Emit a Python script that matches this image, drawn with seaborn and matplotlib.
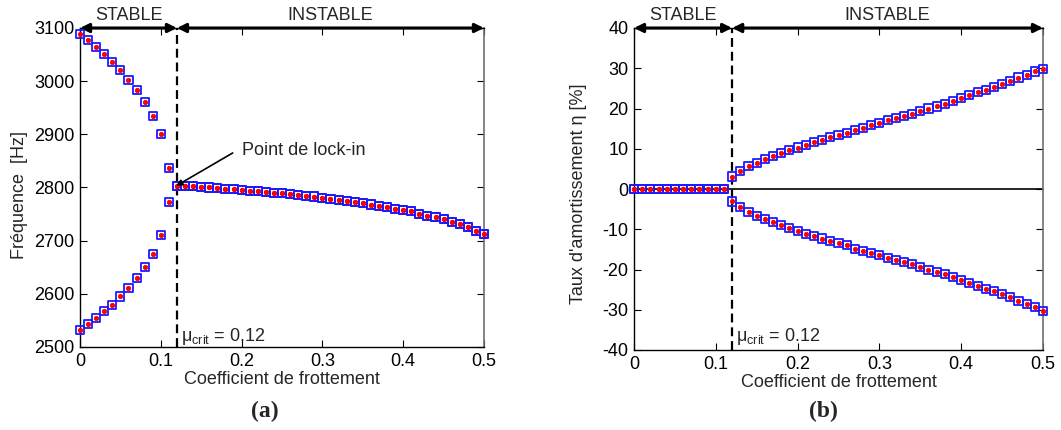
import numpy as np
import pandas as pd
import seaborn as sns
import matplotlib.pyplot as plt
import matplotlib.transforms as mtransforms

# =========================
# DATA
# =========================
mu_stable = [0.00, 0.01, 0.02, 0.03, 0.04, 0.05, 0.06, 0.07, 0.08, 0.09, 0.10, 0.11]
mu_instable = [0.12, 0.13, 0.14, 0.15, 0.16, 0.17, 0.18, 0.19, 0.20, 0.21,
               0.22, 0.23, 0.24, 0.25, 0.26, 0.27, 0.28, 0.29, 0.30, 0.31,
               0.32, 0.33, 0.34, 0.35, 0.36, 0.37, 0.38, 0.39, 0.40, 0.41,
               0.42, 0.43, 0.44, 0.45, 0.46, 0.47, 0.48, 0.49, 0.50]

# frequencies [Hz]
freq_stable_up = [3088, 3077, 3064, 3051, 3036, 3021, 3003, 2984, 2960, 2935, 2900, 2836]
freq_stable_low = [2532, 2543, 2554, 2567, 2579, 2595, 2611, 2630, 2651, 2675, 2710, 2772]
freq_instable = [2803, 2802, 2802, 2801, 2800, 2799, 2798, 2797, 2796, 2794,
                 2793, 2792, 2790, 2789, 2787, 2786, 2784, 2783, 2781, 2779,
                 2777, 2775, 2773, 2771, 2768, 2766, 2763, 2760, 2758, 2755,
                 2751, 2747, 2744, 2740, 2735, 2731, 2725, 2719, 2713]

# damping ratio [%]
eta_stable = [0, 0, 0, 0, 0, 0, 0, 0, 0, 0, 0, 0]
eta_instable_up = [3.1, 4.5, 5.7, 6.5, 7.5, 8.3, 8.9, 9.6, 10.3, 10.9,
                   11.6, 12.1, 12.9, 13.4, 13.9, 14.7, 15.2, 15.8, 16.3, 17.1,
                   17.6, 18.1, 18.6, 19.4, 20.0, 20.5, 21.2, 21.9, 22.6, 23.3,
                   24.0, 24.7, 25.4, 26.1, 26.8, 27.7, 28.4, 29.2, 29.9]
eta_instable_low = [-3.1, -4.5, -5.7, -6.6, -7.5, -8.3, -9.0, -9.7, -10.4, -11.1,
                    -11.7, -12.3, -13.0, -13.5, -14.0, -14.8, -15.3, -16.0, -16.4, -17.1,
                    -17.6, -18.2, -18.7, -19.4, -20.1, -20.7, -21.2, -21.8, -22.6, -23.4,
                    -24.0, -24.8, -25.4, -26.1, -26.9, -27.8, -28.5, -29.4, -30.2]

mu_crit = 0.12

# =========================
# STYLE
# =========================
sns.set_style("ticks")
plt.rcParams['font.family'] = ['Liberation Sans', 'DejaVu Sans']
plt.rcParams['mathtext.default'] = 'regular'
plt.rcParams['axes.unicode_minus'] = False
FS = 13

fig = plt.figure(figsize=(10.61, 4.30), dpi=100)
ax1 = fig.add_axes([80 / 1061, 1 - 347 / 430, 404 / 1061, 319 / 430])
ax2 = fig.add_axes([634 / 1061, 1 - 350 / 430, 409 / 1061, 322 / 430])


def draw_branch(ax, x, y):
    sns.scatterplot(x=x, y=y, ax=ax, marker='s', s=34, facecolor='none',
                    edgecolor='#1a1aff', linewidth=1.3, clip_on=False, zorder=3)
    sns.scatterplot(x=x, y=y, ax=ax, marker='o', s=10, color='red',
                    edgecolor='red', linewidth=0.6, clip_on=False, zorder=4)


def setup_axes(ax, ylim, yticks):
    ax.set_xlim(0, 0.5)
    ax.set_ylim(*ylim)
    ax.set_xticks([0, 0.1, 0.2, 0.3, 0.4, 0.5])
    ax.set_xticklabels(['0', '0.1', '0.2', '0.3', '0.4', '0.5'])
    ax.set_yticks(yticks)
    ax.tick_params(direction='in', length=5, width=0.8, top=True, right=True,
                   labelsize=FS, pad=4, colors='k')
    for side in ['left', 'bottom', 'top']:
        ax.spines[side].set_color('k')
        ax.spines[side].set_linewidth(1.0)
    ax.spines['right'].set_color('#707070')
    ax.spines['right'].set_linewidth(1.2)
    ax.set_xlabel('Coefficient de frottement', fontsize=FS, labelpad=1)
    ax.axvline(mu_crit, color='k', ls='--', lw=1.6, dashes=(4, 2.2), zorder=2)
    top = ylim[1]
    for a, b in [(0, mu_crit), (mu_crit, 0.5)]:
        ax.annotate('', xy=(a, top), xytext=(b, top), annotation_clip=False,
                    arrowprops=dict(arrowstyle='<|-|>', color='k', lw=2.2,
                                    mutation_scale=13, shrinkA=0, shrinkB=0))
    trans = mtransforms.blended_transform_factory(ax.transData, ax.transAxes)
    ax.text(mu_crit / 2, 1.04, 'STABLE', transform=trans, ha='center',
            va='center', fontsize=FS)
    ax.text((mu_crit + 0.5) / 2, 1.04, 'INSTABLE', transform=trans,
            ha='center', va='center', fontsize=FS)


# =========================
# (a) FREQUENCY
# =========================
setup_axes(ax1, (2500, 3100), [2500, 2600, 2700, 2800, 2900, 3000, 3100])
draw_branch(ax1, mu_stable, freq_stable_up)
draw_branch(ax1, mu_stable, freq_stable_low)
draw_branch(ax1, mu_instable, freq_instable)
draw_branch(ax1, mu_instable, freq_instable)
ax1.set_ylabel('Fréquence  [Hz]', fontsize=FS)
ax1.yaxis.set_label_coords(-0.129, 0.476)
ax1.text(0.125, 2511, r'μ$_{crit}$ = 0.12', fontsize=FS, va='baseline', ha='left')
ax1.text(0.2, 2869, 'Point de lock-in', fontsize=FS, va='center', ha='left')
ax1.annotate('', xy=(0.119, 2803), xytext=(0.189, 2865),
             arrowprops=dict(arrowstyle='-|>', color='k', lw=1.2,
                             mutation_scale=9, shrinkA=0, shrinkB=0), zorder=6)

# =========================
# (b) DAMPING
# =========================
setup_axes(ax2, (-40, 40), [-40, -30, -20, -10, 0, 10, 20, 30, 40])
ax2.axhline(0, color='k', lw=1.2, zorder=2)
draw_branch(ax2, mu_stable, eta_stable)
draw_branch(ax2, mu_stable, eta_stable)
draw_branch(ax2, mu_instable, eta_instable_up)
draw_branch(ax2, mu_instable, eta_instable_low)
ax2.set_ylabel("Taux d'amortissement η [%]", fontsize=FS)
ax2.yaxis.set_label_coords(-0.115, 0.484)
ax2.text(0.125, -37.8, r'μ$_{crit}$ = 0.12', fontsize=FS, va='baseline', ha='left')

# panel letters
fig.text(265 / 1061, 1 - 411 / 430, '(a)', fontsize=17, fontweight='bold',
         family='Liberation Serif', ha='center', va='center')
fig.text(823 / 1061, 1 - 411 / 430, '(b)', fontsize=17, fontweight='bold',
         family='Liberation Serif', ha='center', va='center')

fig.savefig('out.png', dpi=100)
